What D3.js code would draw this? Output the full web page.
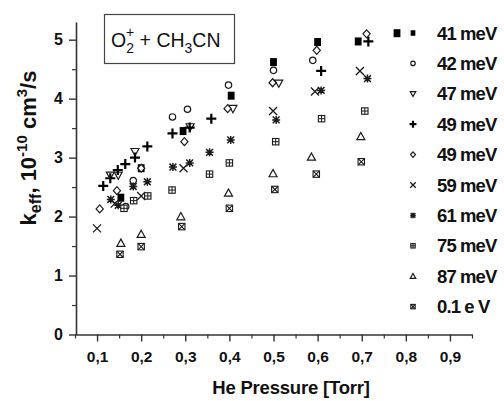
<!DOCTYPE html>
<html>
<head>
<meta charset="utf-8">
<script src="https://cdn.jsdelivr.net/npm/d3@7"></script>
<style>
  html, body { margin: 0; padding: 0; background: #fff; }
  svg { display: block; }
  text { font-family: "Liberation Sans", Arial, sans-serif; fill: #111; }
</style>
</head>
<body>
<svg id="chart" width="504" height="401"></svg>
<script>
// Effective rate coefficient of O2+ + CH3CN vs. He pressure, one series per collision energy
const seriesLabels = ["41 meV", "42 meV", "47 meV", "49 meV", "49 meV", "59 meV", "61 meV", "75 meV", "87 meV", "0.1 e V"];
const seriesSymbols = ["filledSquare", "circle", "triDown", "plus", "diamond", "cross", "asterisk", "boxPlus", "triUp", "boxX"];

// [He pressure (Torr), k_eff (1e-10 cm^3/s)]
const e41 = [[0.154, 2.32], [0.20, 2.82], [0.295, 3.45], [0.404, 4.05], [0.50, 4.62], [0.60, 4.96], [0.692, 4.97], [0.78, 5.11]];
const e42 = [[0.165, 2.17], [0.182, 2.61], [0.271, 3.69], [0.305, 3.82], [0.398, 4.23], [0.50, 4.48], [0.589, 4.65]];
const e47 = [[0.13, 2.70], [0.148, 2.70], [0.186, 3.10], [0.311, 3.52], [0.408, 3.83], [0.512, 4.26]];
const e49a = [[0.114, 2.52], [0.13, 2.65], [0.147, 2.79], [0.164, 2.89], [0.186, 3.00], [0.214, 3.19], [0.271, 3.41], [0.31, 3.51], [0.359, 3.66], [0.608, 4.47], [0.715, 4.97]];
const e49b = [[0.106, 2.13], [0.145, 2.44], [0.20, 2.82], [0.298, 3.27], [0.396, 3.83], [0.498, 4.27], [0.598, 4.82], [0.711, 5.10]];
const e59 = [[0.10, 1.80], [0.14, 2.22], [0.20, 2.35], [0.296, 2.82], [0.499, 3.79], [0.594, 4.12], [0.696, 4.47]];
const e61 = [[0.131, 2.29], [0.148, 2.19], [0.182, 2.51], [0.214, 2.59], [0.272, 2.84], [0.31, 2.91], [0.355, 3.09], [0.403, 3.30], [0.506, 3.64], [0.608, 4.14], [0.713, 4.34]];
const e75 = [[0.161, 2.14], [0.183, 2.27], [0.215, 2.35], [0.27, 2.45], [0.355, 2.72], [0.40, 2.91], [0.505, 3.27], [0.609, 3.66], [0.707, 3.79]];
const e87 = [[0.154, 1.55], [0.20, 1.70], [0.29, 2.00], [0.398, 2.40], [0.499, 2.73], [0.586, 3.01], [0.698, 3.36]];
const e100 = [[0.152, 1.36], [0.20, 1.49], [0.292, 1.83], [0.40, 2.14], [0.503, 2.46], [0.597, 2.72], [0.699, 2.93]];
const seriesData = [e41, e42, e47, e49a, e49b, e59, e61, e75, e87, e100];

const xMajorTicks = [0.1, 0.2, 0.3, 0.4, 0.5, 0.6, 0.7, 0.8, 0.9];
const xMinorTicks = [0.05, 0.15, 0.25, 0.35, 0.45, 0.55, 0.65, 0.75, 0.85, 0.95];
const yMajorTicks = [0, 1, 2, 3, 4, 5];
const yMinorTicks = [0.5, 1.5, 2.5, 3.5, 4.5];

const svg = d3.select("#chart");
const x = d3.scaleLinear().domain([0.05, 0.95]).range([75, 472]);
const y = d3.scaleLinear().domain([0, 5.3]).range([334.5, 22]);
const axisColor = "#333";

// Axes
const xAxis = svg.append("g").attr("transform", `translate(0,${y(0)})`)
  .call(d3.axisBottom(x).tickValues(xMajorTicks).tickSize(7).tickSizeOuter(0)
    .tickFormat(d => d3.format(".1f")(d).replace(".", ",")));
xAxis.select(".domain").attr("stroke", axisColor).attr("stroke-width", 1.6);
xAxis.selectAll(".tick line").attr("stroke", axisColor).attr("stroke-width", 1.4);
xAxis.selectAll(".tick text").attr("dy", "1.1em").attr("font-size", 15.5).attr("font-weight", "bold")
  .attr("font-family", "Liberation Sans, Arial, sans-serif").attr("fill", "#111");

const xMinor = svg.append("g").attr("transform", `translate(0,${y(0)})`)
  .call(d3.axisBottom(x).tickValues(xMinorTicks).tickSize(4).tickFormat(""));
xMinor.select(".domain").remove();
xMinor.selectAll(".tick line").attr("stroke", axisColor).attr("stroke-width", 1.2);

const yAxis = svg.append("g").attr("transform", `translate(${x.range()[0] + 1},0)`)
  .call(d3.axisLeft(y).tickValues(yMajorTicks).tickSize(7).tickSizeOuter(0).tickFormat(d3.format("d")));
yAxis.select(".domain").attr("stroke", axisColor).attr("stroke-width", 1.6);
yAxis.selectAll(".tick line").attr("stroke", axisColor).attr("stroke-width", 1.4);
yAxis.selectAll(".tick text").attr("x", -13).attr("font-size", 16).attr("font-weight", "bold")
  .attr("font-family", "Liberation Sans, Arial, sans-serif").attr("fill", "#111");

const yMinor = svg.append("g").attr("transform", `translate(${x.range()[0] + 1},0)`)
  .call(d3.axisLeft(y).tickValues(yMinorTicks).tickSize(4).tickFormat(""));
yMinor.select(".domain").remove();
yMinor.selectAll(".tick line").attr("stroke", axisColor).attr("stroke-width", 1.2);

// Axis titles
svg.append("text").attr("x", 291).attr("y", 394).attr("text-anchor", "middle")
  .attr("font-size", 18.5).attr("font-weight", "bold").attr("letter-spacing", -0.2).text("He Pressure [Torr]");

const yTitle = svg.append("text").attr("transform", "translate(36,148) rotate(-90)")
  .attr("text-anchor", "middle").attr("font-size", 22).attr("font-weight", "bold");
yTitle.append("tspan").text("k");
yTitle.append("tspan").attr("font-size", 16).attr("dy", 5).text("eff");
yTitle.append("tspan").attr("dy", -5).text(", 10");
yTitle.append("tspan").attr("font-size", 15).attr("dy", -9).text("-10");
yTitle.append("tspan").attr("dy", 9).text(" cm");
yTitle.append("tspan").attr("font-size", 15).attr("dy", -9).text("3");
yTitle.append("tspan").attr("dy", 9).text("/s");

// Reaction label box
svg.append("rect").attr("x", 104.5).attr("y", 14.5).attr("width", 130).attr("height", 49)
  .attr("fill", "#fff").attr("stroke", "#444").attr("stroke-width", 1.2);
const title = svg.append("text").attr("x", 111).attr("y", 47).attr("font-size", 19.5).attr("fill", "#222");
title.append("tspan").text("O");
title.append("tspan").attr("font-size", 14).attr("dy", 6).text("2");
title.append("tspan").attr("font-size", 14).attr("dx", -8).attr("dy", -16).text("+");
title.append("tspan").attr("dy", 10).text(" + CH");
title.append("tspan").attr("font-size", 14).attr("dy", 6).text("3");
title.append("tspan").attr("dy", -6).text("CN");

// Marker drawing
const ink = "#1a1a1a";
function drawSymbol(g, type, s) {
  const h = s / 2;
  switch (type) {
    case "filledSquare":
      g.append("rect").attr("x", -h * 0.85).attr("y", -h).attr("width", s * 0.85).attr("height", s).attr("fill", "#000");
      break;
    case "circle":
      g.append("circle").attr("r", h * 0.8).attr("fill", "#fff").attr("stroke", ink).attr("stroke-width", 1.2);
      break;
    case "triDown":
      g.append("path").attr("d", `M${-h},${-h * 0.8}L${h},${-h * 0.8}L0,${h}Z`)
        .attr("fill", "#fff").attr("stroke", ink).attr("stroke-width", 1.2);
      break;
    case "triUp":
      g.append("path").attr("d", `M${-h},${h * 0.8}L${h},${h * 0.8}L0,${-h}Z`)
        .attr("fill", "#fff").attr("stroke", ink).attr("stroke-width", 1.2);
      break;
    case "plus":
      g.append("path").attr("d", `M${-h * 1.25},0H${h * 1.25}M0,${-h * 1.25}V${h * 1.25}`)
        .attr("stroke", "#000").attr("stroke-width", 2.2);
      break;
    case "diamond":
      g.append("path").attr("d", `M0,${-h}L${h * 0.9},0L0,${h}L${-h * 0.9},0Z`)
        .attr("fill", "#fff").attr("stroke", ink).attr("stroke-width", 1.2);
      break;
    case "cross":
      g.append("path").attr("d", `M${-h},${-h}L${h},${h}M${h},${-h}L${-h},${h}`)
        .attr("stroke", ink).attr("stroke-width", 1.3);
      break;
    case "asterisk": {
      const a = h * 0.85;
      g.append("path").attr("d", `M${-a},${-a}L${a},${a}M${a},${-a}L${-a},${a}M${-h},0H${h}M0,${-h}V${h}`)
        .attr("stroke", ink).attr("stroke-width", 1.5);
      break;
    }
    case "boxPlus": {
      const b = h * 0.8;
      g.append("rect").attr("x", -b).attr("y", -b).attr("width", 2 * b).attr("height", 2 * b)
        .attr("fill", "#fff").attr("stroke", ink).attr("stroke-width", 1.1);
      g.append("path").attr("d", `M${-b},0H${b}M0,${-b}V${b}`).attr("stroke", ink).attr("stroke-width", 1);
      break;
    }
    case "boxX": {
      const b = h * 0.8;
      g.append("rect").attr("x", -b).attr("y", -b).attr("width", 2 * b).attr("height", 2 * b)
        .attr("fill", "#fff").attr("stroke", ink).attr("stroke-width", 1.1);
      g.append("path").attr("d", `M${-b},${-b}L${b},${b}M${b},${-b}L${-b},${b}`).attr("stroke", ink).attr("stroke-width", 1.1);
      break;
    }
  }
}

// Data points
const plot = svg.append("g");
seriesData.forEach((pts, i) => {
  pts.forEach(([p, k]) => {
    const g = plot.append("g").attr("transform", `translate(${x(p)},${y(k)})`);
    drawSymbol(g, seriesSymbols[i], 8);
  });
});

// Legend
const legend = svg.append("g");
seriesLabels.forEach((lab, i) => {
  const ly = 33 + i * 30.4;
  const g = legend.append("g").attr("transform", `translate(413,${ly})`);
  drawSymbol(g, seriesSymbols[i], 5.5);
  legend.append("text").attr("x", 437).attr("y", ly).attr("dy", "0.36em")
    .attr("font-size", 18.5).attr("font-weight", "bold").attr("letter-spacing", -0.9)
    .attr("font-family", "Liberation Sans Narrow, Liberation Sans, Arial, sans-serif")
    .text(lab);
});
</script>
</body>
</html>
